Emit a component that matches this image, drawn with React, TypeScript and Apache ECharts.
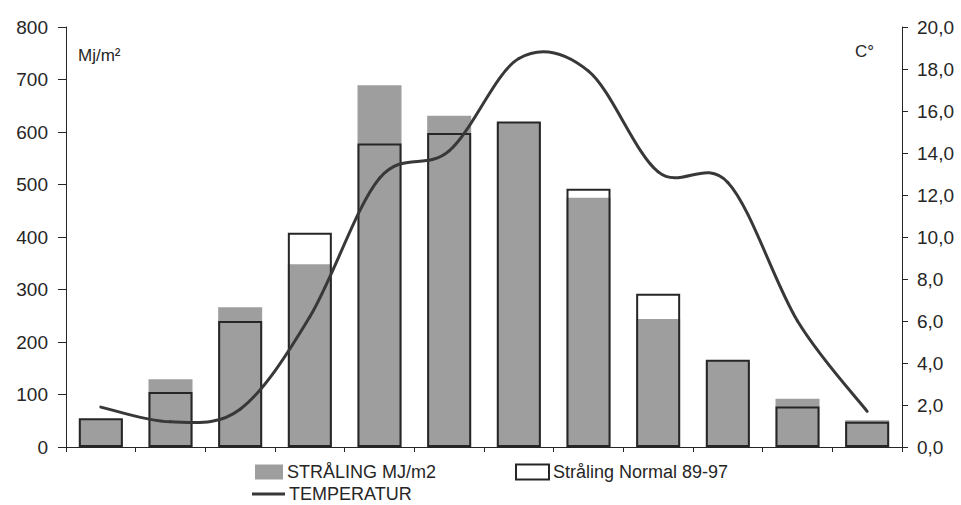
import React, { useEffect, useRef } from "react";
import * as echarts from "echarts";

const months = ["Jan", "Feb", "Mar", "Apr", "Mai", "Jun", "Jul", "Aug", "Sep", "Okt", "Nov", "Des"];
const straling = [53, 129, 266, 348, 689, 631, 618, 475, 244, 164, 92, 51];
const stralingNormal = [55, 105, 240, 408, 578, 598, 620, 492, 292, 166, 77, 48];
const temperatur = [1.9, 1.2, 1.8, 6.2, 12.8, 14.1, 18.5, 17.9, 13.1, 12.6, 6.0, 1.7];
const leftTicks = { min: 0, max: 800, interval: 100 };
const rightTicks = { min: 0, max: 20, interval: 2 };

const FONT = "'Liberation Sans', Arial, sans-serif";
const INK = "#262626";
const LINE = "#383838";

export default function App() {
  const ref = useRef<HTMLDivElement>(null);
  useEffect(() => {
    if (!ref.current) return;
    const chart = echarts.init(ref.current, undefined, { renderer: "svg" });
    const legendText = { fontFamily: FONT, fontSize: 18, color: INK, padding: [0, 0, 0, -1] };
    chart.setOption({
      animation: false,
      backgroundColor: "#ffffff",
      textStyle: { fontFamily: FONT },
      grid: { left: 66, right: 59, top: 27, bottom: 58, containLabel: false },
      legend: [
        {
          data: ["STRÅLING MJ/m2"],
          left: 255,
          top: 463,
          padding: 0,
          itemWidth: 28,
          itemHeight: 15,
          icon: "rect",
          textStyle: legendText,
        },
        {
          data: ["Stråling Normal 89-97"],
          left: 515,
          top: 463,
          padding: 0,
          itemWidth: 33,
          itemHeight: 15,
          icon: "rect",
          textStyle: legendText,
        },
        {
          data: ["TEMPERATUR"],
          left: 252,
          top: 485,
          padding: 0,
          itemWidth: 33,
          itemHeight: 3,
          icon: "rect",
          textStyle: legendText,
        },
      ],
      xAxis: {
        type: "category",
        data: months,
        boundaryGap: true,
        axisLine: { lineStyle: { color: INK, width: 1 } },
        axisTick: { show: true, length: 5, lineStyle: { color: INK } },
        axisLabel: { show: false },
        splitLine: { show: false },
      },
      yAxis: [
        {
          type: "value",
          position: "left",
          ...leftTicks,
          axisLine: { show: true, lineStyle: { color: INK, width: 1 } },
          axisTick: { show: true, length: 8, lineStyle: { color: INK } },
          axisLabel: { fontSize: 19, color: INK, margin: 18, fontFamily: FONT },
          splitLine: { show: false },
        },
        {
          type: "value",
          position: "right",
          ...rightTicks,
          axisLine: { show: true, lineStyle: { color: INK, width: 1 } },
          axisTick: { show: true, length: 6, lineStyle: { color: INK } },
          axisLabel: {
            fontSize: 19,
            color: INK,
            margin: 15,
            fontFamily: FONT,
            formatter: (v: number) => v.toFixed(1).replace(".", ","),
          },
          splitLine: { show: false },
        },
      ],
      series: [
        {
          name: "STRÅLING MJ/m2",
          type: "bar",
          data: straling,
          barWidth: 44,
          barGap: "-100%",
          itemStyle: { color: "#9e9e9e" },
          z: 2,
        },
        {
          name: "Stråling Normal 89-97",
          type: "bar",
          data: stralingNormal,
          barWidth: 44,
          barGap: "-100%",
          itemStyle: { color: "rgba(255,255,255,0)", borderColor: INK, borderWidth: 2 },
          z: 3,
        },
        {
          name: "TEMPERATUR",
          type: "custom",
          coordinateSystem: "cartesian2d",
          yAxisIndex: 1,
          encode: { x: 0, y: 1 },
          data: temperatur.map((v, i) => [i, v]),
          itemStyle: { color: LINE },
          z: 4,
          renderItem: (params: any, api: any) => {
            const i = params.dataIndex;
            const n = temperatur.length;
            if (i >= n - 1) return null;
            const pt = (j: number) => {
              const k = Math.max(0, Math.min(n - 1, j));
              return api.coord([k, temperatur[k]]);
            };
            const p0 = pt(i - 1);
            const p1 = pt(i);
            const p2 = pt(i + 1);
            const p3 = pt(i + 2);
            const c1 = [p1[0] + (p2[0] - p0[0]) / 6, p1[1] + (p2[1] - p0[1]) / 6];
            const c2 = [p2[0] - (p3[0] - p1[0]) / 6, p2[1] - (p3[1] - p1[1]) / 6];
            return {
              type: "bezierCurve",
              shape: {
                x1: p1[0], y1: p1[1],
                cpx1: c1[0], cpy1: c1[1],
                cpx2: c2[0], cpy2: c2[1],
                x2: p2[0], y2: p2[1],
              },
              style: { stroke: LINE, lineWidth: 3, fill: null, lineCap: "round" },
            };
          },
        },
      ],
      graphic: [
        { type: "text", left: 78, top: 47, style: { text: "Mj/m²", font: `17px ${FONT}`, fill: INK } },
        { type: "text", left: 855, top: 43, style: { text: "C°", font: `17px ${FONT}`, fill: INK } },
      ],
    });
    return () => chart.dispose();
  }, []);
  return (
    <div
      ref={ref}
      style={{ position: "fixed", left: 0, top: 0, width: 961, height: 505, background: "#fff" }}
    />
  );
}
